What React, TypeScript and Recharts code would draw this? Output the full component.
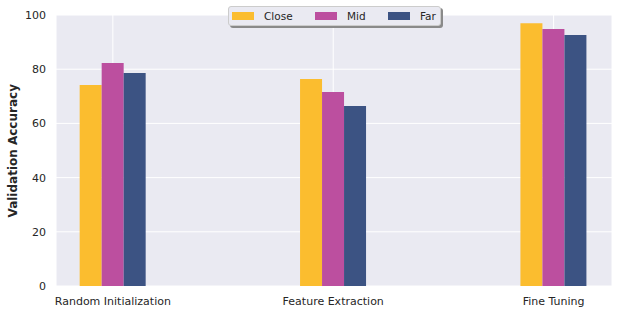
import { BarChart, Bar, XAxis, YAxis, CartesianGrid, Legend } from "recharts";

const categories = ["Random Initialization", "Feature Extraction", "Fine Tuning"];
const closeValues = [74.2, 76.4, 97.0];
const midValues = [82.3, 71.6, 94.8];
const farValues = [78.6, 66.4, 92.6];
const yTicks = [0, 20, 40, 60, 80, 100];

const series = [
  { key: "close", name: "Close", color: "#fbbd2f" },
  { key: "mid", name: "Mid", color: "#bc4f9f" },
  { key: "far", name: "Far", color: "#3c5383" },
];

const data = categories.map((name, i) => ({
  pos: i,
  name,
  close: closeValues[i],
  mid: midValues[i],
  far: farValues[i],
}));

const font = "'DejaVu Sans', sans-serif";

function LegendBox() {
  const gaps = [0, 83, 156];
  return (
    <div
      style={{
        position: "relative",
        width: 213,
        height: 20,
        boxSizing: "border-box",
        background: "#eaeaf2",
        border: "1px solid #cccccc",
        borderRadius: 3,
        boxShadow: "2px 2px 0 #8a8a8a",
        fontFamily: font,
        fontSize: 10.5,
        color: "#262626",
      }}
    >
      {series.map((s, i) => (
        <div key={s.key}>
          <div
            style={{
              position: "absolute",
              left: 3 + gaps[i],
              top: 5,
              width: 22,
              height: 8,
              background: s.color,
            }}
          />
          <span
            style={{
              position: "absolute",
              left: 35 + gaps[i],
              top: 2,
              lineHeight: "14px",
            }}
          >
            {s.name}
          </span>
        </div>
      ))}
    </div>
  );
}

export default function App() {
  return (
    <div style={{ position: "absolute", left: 0, top: 0, background: "#fff" }}>
      <BarChart
        width={619}
        height={313}
        data={data}
        margin={{ top: 15, right: 7, bottom: 0, left: 0 }}
        barGap={0}
      >
        <CartesianGrid fill="#eaeaf2" stroke="#ffffff" strokeWidth={1} />
        <XAxis
          dataKey="pos"
          type="number"
          domain={[-0.258, 2.265]}
          ticks={[0, 1, 2]}
          tickFormatter={(v: number) => categories[v]}
          height={27}
          axisLine={false}
          tickLine={false}
          tickSize={0}
          tickMargin={11}
          interval={0}
          tick={{ fill: "#262626", fontSize: 11, fontFamily: font }}
        />
        <YAxis
          domain={[0, 100]}
          ticks={yTicks}
          width={56}
          axisLine={false}
          tickLine={false}
          tickSize={0}
          tickMargin={10}
          tick={{ fill: "#262626", fontSize: 11, fontFamily: font }}
          label={{
            value: "Validation Accuracy",
            angle: -90,
            position: "insideLeft",
            dx: 8,
            dy: 67,
            style: {
              fill: "#262626",
              fontSize: 12,
              fontWeight: "bold",
              fontFamily: font,
            },
          }}
        />
        <Legend
          layout="horizontal"
          verticalAlign="middle"
          wrapperStyle={{ top: 6, left: 228, width: 213, height: 20 }}
          content={() => <LegendBox />}
        />
        {series.map((s) => (
          <Bar
            key={s.key}
            dataKey={s.key}
            name={s.name}
            fill={s.color}
            barSize={22}
            isAnimationActive={false}
          />
        ))}
      </BarChart>
    </div>
  );
}
